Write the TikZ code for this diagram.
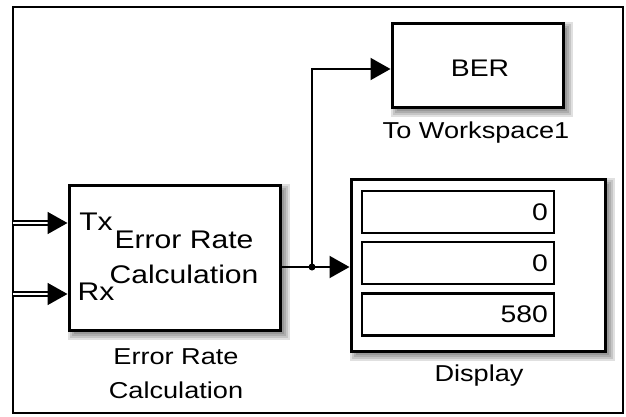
\documentclass[tikz,border=0pt]{standalone}
\usepackage{fontspec}
\setmainfont{Liberation Sans}[FakeStretch=1.18]
\usetikzlibrary{arrows.meta,calc,backgrounds}
\tikzset{
  blk/.style={draw, line width=3, fill=white, inner sep=0, rectangle},
  lbl/.style={font=\fontsize{23}{34}\selectfont, inner sep=0, anchor=center, align=center},
  ilbl/.style={font=\fontsize{25.5}{35}\selectfont, inner sep=0, anchor=center, align=center},
  sig/.style={line width=2, -{Triangle[length=20,width=22]}},
  dsig/.style={double, line width=1.7, double distance=2.2, -{Triangle[length=20,width=22]}},
  field/.style={draw, line width=2.5, rectangle, minimum width=192, minimum height=42, inner sep=0},
  shade/.style={fill=black, opacity=0.12},
}
\begin{document}
\begin{tikzpicture}[x=1pt,y=-1pt]
\useasboundingbox (0,0) rectangle (626,417);
\draw[line width=2.5] (13,7) rectangle (623,413);

% blocks
\node[blk, minimum width=211, minimum height=145] (er) at (174.5,257.5) {};
\node[blk, minimum width=171, minimum height=84] (ber) at (477.5,66) {};
\node[blk, minimum width=254, minimum height=172] (disp) at (478,265) {};

% shadows
\begin{scope}[on background layer]
\foreach \n in {er,ber,disp}{
  \foreach \b in {0,2,4,6}{
    \fill[shade] ($(\n.north west)+(6-\b,6-\b)$) rectangle ($(\n.south east)+(2+\b,2+\b)$);
  }
}
\end{scope}

% texts in blocks
\node[ilbl] (txt) at (96,222) {Tx};
\node[ilbl] (rxt) at (96,292) {Rx};
\node[ilbl] (ertxt) at (184,257) {Error Rate\\Calculation};
\node[lbl, font=\fontsize{24}{30}\selectfont] (bertxt) at (480,68) {BER};

% display fields
\node[field] (f1) at (458,212) {};
\node[field] (f2) at (458,263) {};
\node[field] (f3) at (458,314.5) {};
\node[lbl, anchor=east, font=\fontsize{24}{30}\selectfont] (v1) at (548,212) {0};
\node[lbl, anchor=east, font=\fontsize{24}{30}\selectfont] (v2) at (548,263) {0};
\node[lbl, anchor=east, font=\fontsize{24}{30}\selectfont] (v3) at (548,314.5) {580};

% labels
\node[lbl] (erlbl) at (176,374) {Error Rate\\Calculation};
\node[lbl] (berlbl) at (476,133) {To Workspace1};
\node[lbl] (displbl) at (479,376) {Display};

% connectors
\coordinate (txin) at (13,223);
\coordinate (rxin) at (13,294);
\coordinate (br) at (312,267);
\draw[dsig] (txin) -- (txin -| er.west);
\draw[dsig] (rxin) -- (rxin -| er.west);
\draw[line width=2] (br -| er.east) -- (br);
\draw[sig] (br) -- (br -| disp.west);
\draw[sig] (br) |- ($(ber.west)+(0,3)$);
\fill (br) circle (3.5);
\end{tikzpicture}
\end{document}
